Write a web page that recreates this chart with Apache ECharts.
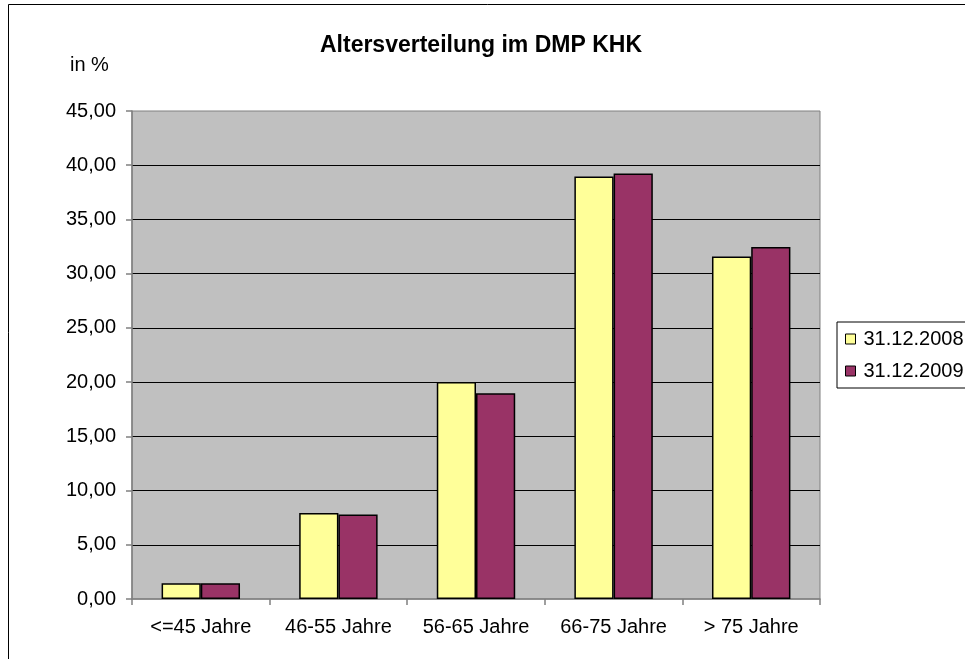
<!DOCTYPE html>
<html>
<head>
<meta charset="utf-8">
<title>Altersverteilung im DMP KHK</title>
<script src="https://cdn.jsdelivr.net/npm/echarts@6/dist/echarts.min.js"></script>
<style>
  html, body { margin: 0; padding: 0; background: #fff; }
  #chart { width: 965px; height: 659px; }
</style>
</head>
<body>
<div id="chart"></div>
<script>
// Daten
const categories = ['<=45 Jahre', '46-55 Jahre', '56-65 Jahre', '66-75 Jahre', '> 75 Jahre'];
const values2008 = [1.45, 7.93, 20.0, 38.96, 31.58];
const values2009 = [1.45, 7.80, 18.97, 39.23, 32.47];
const seriesNames = ['31.12.2008', '31.12.2009'];

const chart = echarts.init(document.getElementById('chart'));

const fmt = v => v.toFixed(2).replace('.', ',');

const option = {
  backgroundColor: '#fff',
  animation: false,
  textStyle: { fontFamily: 'Liberation Sans, Arial, sans-serif' },
  title: {
    text: 'Altersverteilung im DMP KHK',
    left: 476,
    textAlign: 'center',
    top: 29,
    textStyle: { fontSize: 23, fontWeight: 'bold', color: '#000' }
  },
  graphic: [
    // äußerer Rahmen
    {
      type: 'rect',
      z: -1,
      shape: { x: 8.5, y: 4.5, width: 1000, height: 1000 },
      style: { fill: 'none', stroke: '#000', lineWidth: 1 }
    },
    {
      type: 'text',
      left: 70,
      top: 55,
      style: { text: 'in %', fill: '#000', font: '20px Liberation Sans, Arial, sans-serif' }
    }
  ],
  legend: {
    data: seriesNames,
    orient: 'vertical',
    left: 837,
    top: 322,
    padding: [7, 30, 7, 8],
    itemGap: 12,
    itemWidth: 10,
    itemHeight: 10,
    icon: 'rect',
    borderColor: '#000',
    borderWidth: 1,
    borderRadius: 0,
    backgroundColor: '#fff',
    itemStyle: { borderColor: '#000', borderWidth: 1 },
    textStyle: { fontSize: 20, color: '#000', padding: [0, 0, 0, 3] }
  },
  grid: {
    left: 132,
    top: 111,
    width: 688,
    height: 488,
    show: true,
    backgroundColor: '#C0C0C0',
    borderColor: '#808080',
    borderWidth: 1
  },
  xAxis: {
    type: 'category',
    data: categories,
    axisLine: { lineStyle: { color: '#808080', width: 1.5 } },
    axisTick: { show: true, interval: 0, length: 6, lineStyle: { color: '#808080', width: 1.5 } },
    axisLabel: { interval: 0, fontSize: 20, color: '#000', margin: 18 }
  },
  yAxis: {
    type: 'value',
    min: 0,
    max: 45,
    interval: 5,
    axisLine: { show: true, lineStyle: { color: '#808080', width: 1.5 } },
    axisTick: { show: true, length: 6, lineStyle: { color: '#808080', width: 1.5 } },
    axisLabel: { fontSize: 20, color: '#000', margin: 16, formatter: fmt },
    splitLine: { show: true, showMinLine: false, showMaxLine: false, lineStyle: { color: '#000', width: 1 } }
  },
  series: [
    {
      name: seriesNames[0],
      type: 'bar',
      data: values2008,
      barWidth: '28.5%',
      barGap: '0%',
      itemStyle: { color: '#FFFF99', borderColor: '#000', borderWidth: 1.5 }
    },
    {
      name: seriesNames[1],
      type: 'bar',
      data: values2009,
      barWidth: '28.5%',
      barGap: '0%',
      itemStyle: { color: '#993366', borderColor: '#000', borderWidth: 1.5 }
    }
  ]
};

chart.setOption(option);
</script>
</body>
</html>
